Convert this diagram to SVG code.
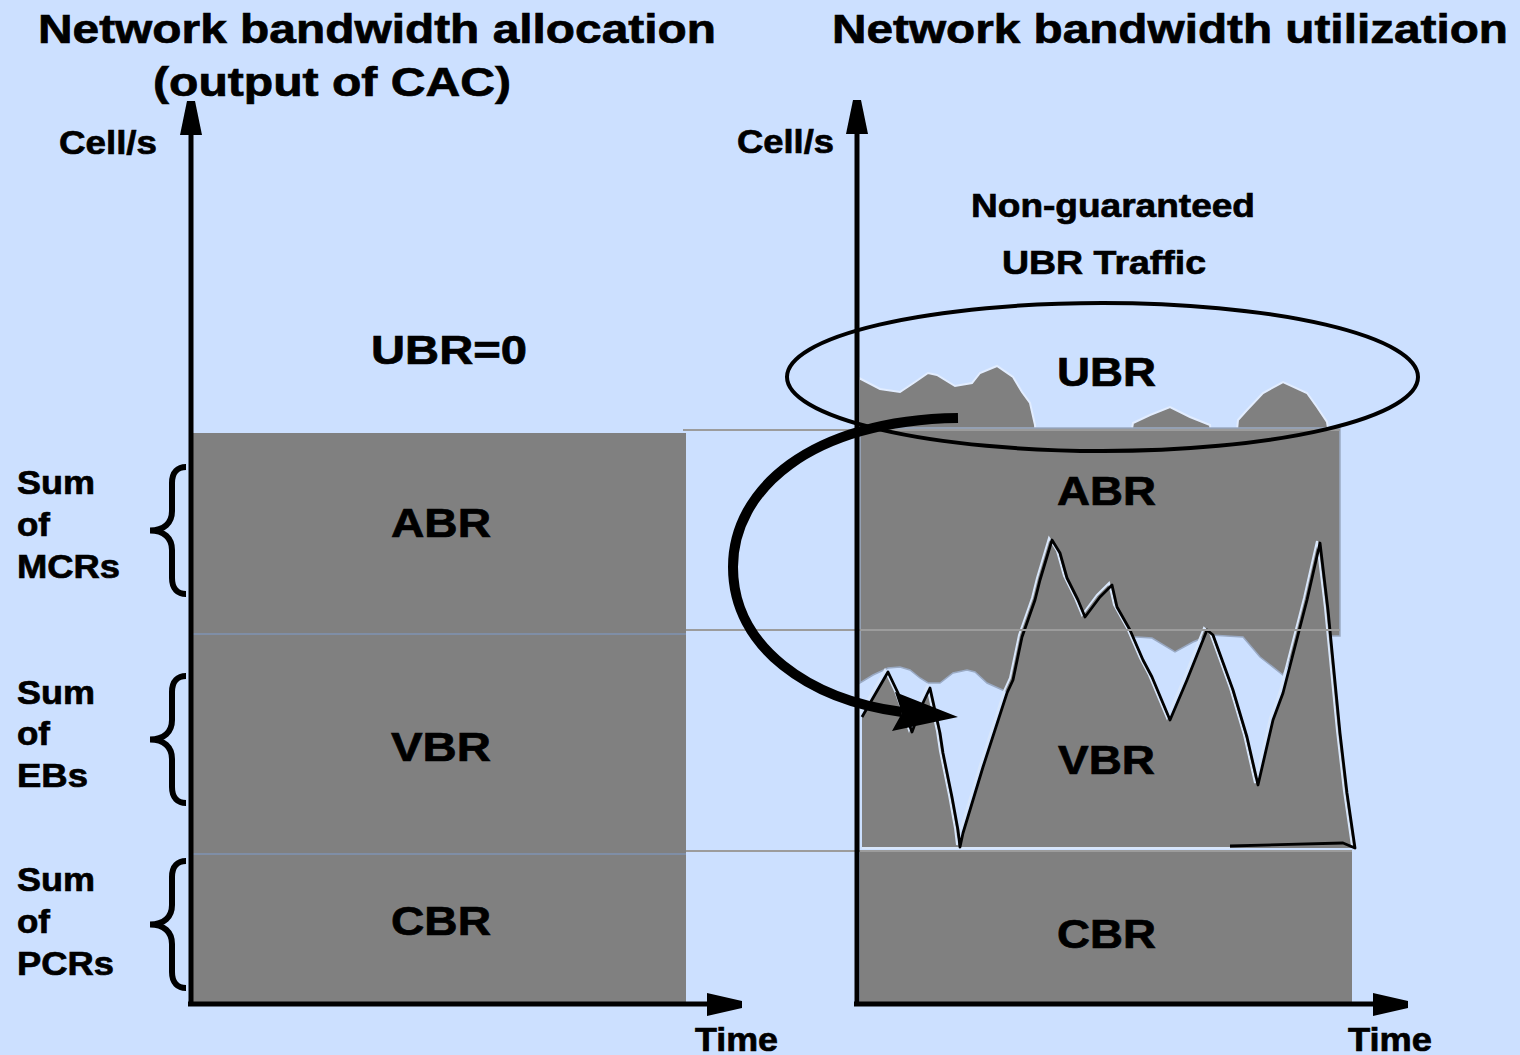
<svg xmlns="http://www.w3.org/2000/svg" xmlns:xlink="http://www.w3.org/1999/xlink" width="1520" height="1055" viewBox="0 0 1520 1055">
  <style>
    .t { font-family: "Liberation Sans", Arial, sans-serif; font-weight: bold; fill: #000; stroke: #000; stroke-width: 0.7px; }
    .big { font-size: 41px; }
    .small { font-size: 34px; }
    .area { fill: #808080; }
    .guide { stroke: #9c9c9c; stroke-width: 2; fill: none; }
    .split { stroke: #7f8ea6; stroke-width: 2; fill: none; }
    .axis { stroke: #000; stroke-width: 5; fill: none; }
    .brace { stroke: #000; stroke-width: 6; fill: none; stroke-linecap: butt; }
  </style>
  <defs>
    <path id="brace" class="brace" d="M 186 0 C 178 0, 172 5, 172 16 L 172 44 C 172 56, 164 63.5, 150 63.5 C 164 63.5, 172 71, 172 83 L 172 111 C 172 122, 178 127, 186 127"/>
    <polygon id="vhead" points="-4,0 4,0 11,34 -11,34"/>
    <polygon id="hhead" points="0,-11 35,-3 35,4 0,12"/>
  </defs>

  <rect width="1520" height="1055" fill="#cce0ff"/>

  <!-- Titles -->
  <g id="titles">
    <text class="t big" x="38" y="43" textLength="678" lengthAdjust="spacingAndGlyphs">Network bandwidth allocation</text>
    <text class="t big" x="153" y="96" textLength="358" lengthAdjust="spacingAndGlyphs">(output of CAC)</text>
    <text class="t big" x="832" y="43" textLength="676" lengthAdjust="spacingAndGlyphs">Network bandwidth utilization</text>
  </g>

  <!-- Left chart: allocated bandwidth -->
  <g id="allocation">
    <rect class="area" x="191" y="433" width="495" height="571"/>
    <line class="split" x1="193" y1="634" x2="686" y2="634"/>
    <line class="split" x1="193" y1="854" x2="686" y2="854"/>
    <text class="t big" x="391" y="537" textLength="100" lengthAdjust="spacingAndGlyphs">ABR</text>
    <text class="t big" x="391" y="761" textLength="100" lengthAdjust="spacingAndGlyphs">VBR</text>
    <text class="t big" x="391" y="935" textLength="100" lengthAdjust="spacingAndGlyphs">CBR</text>
    <text class="t big" x="371" y="364" textLength="156" lengthAdjust="spacingAndGlyphs">UBR=0</text>
  </g>

  <!-- Braces and sums -->
  <g id="sum-mcr">
    <use xlink:href="#brace" y="467"/>
    <text class="t small" x="17" y="494" textLength="78" lengthAdjust="spacingAndGlyphs">Sum</text>
    <text class="t small" x="17" y="536" textLength="33" lengthAdjust="spacingAndGlyphs">of</text>
    <text class="t small" x="17" y="578" textLength="103" lengthAdjust="spacingAndGlyphs">MCRs</text>
  </g>
  <g id="sum-eb">
    <use xlink:href="#brace" y="676"/>
    <text class="t small" x="17" y="704" textLength="78" lengthAdjust="spacingAndGlyphs">Sum</text>
    <text class="t small" x="17" y="745" textLength="33" lengthAdjust="spacingAndGlyphs">of</text>
    <text class="t small" x="17" y="787" textLength="71" lengthAdjust="spacingAndGlyphs">EBs</text>
  </g>
  <g id="sum-pcr">
    <use xlink:href="#brace" y="861"/>
    <text class="t small" x="17" y="891" textLength="78" lengthAdjust="spacingAndGlyphs">Sum</text>
    <text class="t small" x="17" y="933" textLength="33" lengthAdjust="spacingAndGlyphs">of</text>
    <text class="t small" x="17" y="975" textLength="97" lengthAdjust="spacingAndGlyphs">PCRs</text>
  </g>

  <!-- Right chart: measured utilization -->
  <g id="utilization">
    <!-- UBR bursts on top of the ABR band -->
    <g fill="#808080" stroke="#e2edff" stroke-width="2">
      <polygon points="859,440 859,378 880,389 900,392 915,382 928,373 937,375 955,386 972,383 980,373 997,366 1013,377 1022,392 1030,403 1035,425 1036,440"/>
      <polygon points="1130,440 1133,423 1150,415 1170,407 1190,417 1210,425 1212,440"/>
      <polygon points="1236,440 1238,420 1247,410 1263,393 1283,382 1307,393 1317,407 1327,422 1330,440"/>
    </g>
    <!-- ABR band with ragged lower edge -->
    <polygon class="area" stroke="#9aaac4" stroke-width="1.5" points="860,428 1340,428 1340,636 1300,636 1295,650 1283,675 1260,657 1243,637 1210,635 1193,642 1175,652 1152,638 1137,637 1022,637 1013,680 1007,692 987,683 975,672 967,670 953,673 940,683 928,683 920,678 910,670 900,667 888,668 873,675 860,683"/>
    <!-- CBR band -->
    <rect class="area" x="860" y="851" width="492" height="153"/>
    <!-- VBR trace -->
    <polygon class="area" points="862,848 862,717 888,672 898,693 912,732 922,705 930,688 940,733 943,753 952,797 958,830 960,847 963,833 983,767 1007,693 1013,680 1022,637 1035,600 1040,580 1052,540 1060,553 1067,578 1078,600 1085,617 1100,597 1112,585 1117,607 1130,630 1143,660 1152,677 1170,720 1187,680 1207,630 1213,635 1233,690 1247,737 1258,785 1273,720 1283,693 1307,600 1320,543 1328,610 1340,733 1347,793 1355,848"/>
    <polyline fill="none" stroke="#d8e6fa" stroke-width="2" transform="translate(-3,-2)" points="862,717 888,672 898,693 912,732 922,705 930,688 940,733 943,753 952,797 958,830 960,847 963,833 983,767 1007,693 1013,680 1022,637 1035,600 1040,580 1052,540 1060,553 1067,578 1078,600 1085,617 1100,597 1112,585 1117,607 1130,630 1143,660 1152,677 1170,720 1187,680 1207,630 1213,635 1233,690 1247,737 1258,785 1273,720 1283,693 1307,600 1320,543 1328,610 1340,733 1347,793 1355,848"/>
    <line x1="862" y1="848" x2="1230" y2="848" stroke="#d8e6fa" stroke-width="2"/>
    <polyline fill="none" stroke="#000" stroke-width="2.8" stroke-linejoin="round" points="862,717 888,672 898,693 912,732 922,705 930,688 940,733 943,753 952,797 958,830 960,847 963,833 983,767 1007,693 1013,680 1022,637 1035,600 1040,580 1052,540 1060,553 1067,578 1078,600 1085,617 1100,597 1112,585 1117,607 1130,630 1143,660 1152,677 1170,720 1187,680 1207,630 1213,635 1233,690 1247,737 1258,785 1273,720 1283,693 1307,600 1320,543 1328,610 1340,733 1347,793 1355,848 1343,843 1230,846"/>
    <text class="t small" x="971" y="217" textLength="284" lengthAdjust="spacingAndGlyphs">Non-guaranteed</text>
    <text class="t small" x="1002" y="274" textLength="204" lengthAdjust="spacingAndGlyphs">UBR Traffic</text>
    <text class="t big" x="1057" y="386" textLength="99" lengthAdjust="spacingAndGlyphs">UBR</text>
    <text class="t big" x="1057" y="505" textLength="99" lengthAdjust="spacingAndGlyphs">ABR</text>
    <text class="t big" x="1058" y="774" textLength="97" lengthAdjust="spacingAndGlyphs">VBR</text>
    <text class="t big" x="1057" y="948" textLength="99" lengthAdjust="spacingAndGlyphs">CBR</text>
  </g>

  <!-- Level guides joining both charts -->
  <g id="guides">
    <line class="guide" x1="683" y1="430" x2="1340" y2="430"/>
    <line class="guide" x1="686" y1="630" x2="1340" y2="630"/>
    <line class="guide" x1="686" y1="851" x2="1352" y2="851"/>
  </g>

  <!-- Axes -->
  <g id="axes">
    <line class="axis" x1="191" y1="130" x2="191" y2="1006"/>
    <use xlink:href="#vhead" x="191" y="101"/>
    <line class="axis" x1="188" y1="1004" x2="710" y2="1004"/>
    <use xlink:href="#hhead" x="707" y="1004"/>
    <text class="t small" x="59" y="154" textLength="98" lengthAdjust="spacingAndGlyphs">Cell/s</text>
    <text class="t small" x="695" y="1051" textLength="83" lengthAdjust="spacingAndGlyphs">Time</text>

    <line class="axis" x1="857" y1="130" x2="857" y2="1006"/>
    <use xlink:href="#vhead" x="857" y="100"/>
    <line class="axis" x1="854" y1="1004" x2="1376" y2="1004"/>
    <use xlink:href="#hhead" x="1373" y="1004"/>
    <text class="t small" x="737" y="153" textLength="97" lengthAdjust="spacingAndGlyphs">Cell/s</text>
    <text class="t small" x="1348" y="1051" textLength="84" lengthAdjust="spacingAndGlyphs">Time</text>
  </g>

  <!-- Connectors: UBR grouping and reuse arrow -->
  <g id="connectors">
    <ellipse cx="1102.5" cy="377" rx="315.5" ry="74" fill="none" stroke="#000" stroke-width="4"/>
    <path d="M 958 418 C 810 420, 733 490, 733 567 C 733 648, 810 700, 902 712" fill="none" stroke="#000" stroke-width="10"/>
    <polygon points="958,717 895,692 902,713 892,731"/>
  </g>
</svg>
